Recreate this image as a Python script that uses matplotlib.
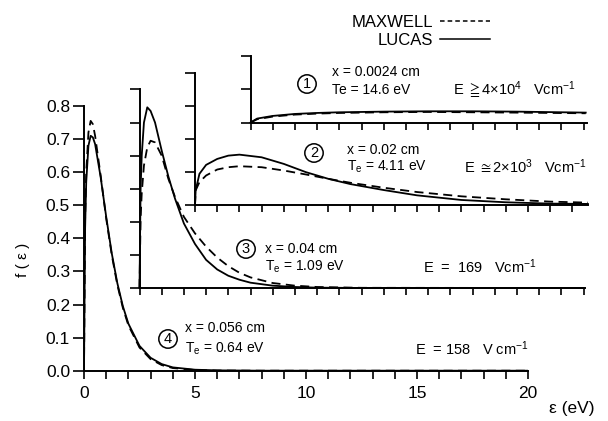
import matplotlib
matplotlib.use("Agg")
import matplotlib.pyplot as plt
from matplotlib.lines import Line2D

plt.rcParams['font.family'] = ['Liberation Sans', 'DejaVu Sans']
plt.rcParams['mathtext.fontset'] = 'custom'
plt.rcParams['mathtext.rm'] = 'Liberation Sans'
plt.rcParams['mathtext.it'] = 'Liberation Sans'
plt.rcParams['mathtext.fallback'] = 'stixsans'

# ---- electron energy distributions f(eps) at four positions ----
# case 4: x = 0.056 cm (main axes)
eps4 = [0, 0.05, 0.1, 0.2, 0.3, 0.4, 0.5, 0.75, 1.0, 1.25, 1.5, 1.75, 2.0, 2.5, 3.0, 3.5, 4.0, 5.0, 6.0, 8.0, 20.0]
maxwell4 = [0, 0.46, 0.60, 0.72, 0.755, 0.745, 0.71, 0.59, 0.46, 0.35, 0.26, 0.19, 0.137, 0.07, 0.035, 0.017, 0.008, 0.002, 0.0005, 0, 0]
lucas4 = [0, 0.43, 0.57, 0.68, 0.71, 0.705, 0.685, 0.585, 0.465, 0.355, 0.265, 0.195, 0.142, 0.075, 0.039, 0.02, 0.01, 0.003, 0.001, 0, 0]

# case 3: x = 0.04 cm
eps3 = [0, 0.05, 0.1, 0.2, 0.35, 0.5, 0.7, 1.0, 1.3, 1.6, 2.0, 2.5, 3.0, 3.5, 4.0, 4.5, 5.0, 6.0, 7.0, 8.0, 10.0, 20.0]
maxwell3 = [0, 0.21, 0.285, 0.37, 0.425, 0.445, 0.44, 0.40, 0.33, 0.275, 0.215, 0.165, 0.125, 0.092, 0.066, 0.046, 0.032, 0.015, 0.007, 0.003, 0.0005, 0]
lucas3 = [0, 0.30, 0.40, 0.50, 0.546, 0.535, 0.50, 0.415, 0.337, 0.27, 0.195, 0.133, 0.085, 0.056, 0.037, 0.025, 0.016, 0.007, 0.003, 0.001, 0, 0]

# case 2: x = 0.02 cm
eps2 = [0, 0.03, 0.2, 0.5, 1.0, 1.5, 2.0, 3.0, 4.0, 5.0, 6.0, 7.0, 8.5, 10.0, 12.0, 14.0, 16.0, 17.7]
maxwell2 = [0, 0.045, 0.07, 0.09, 0.108, 0.115, 0.118, 0.115, 0.105, 0.093, 0.08, 0.068, 0.053, 0.040, 0.027, 0.018, 0.011, 0.008]
lucas2 = [0, 0.045, 0.095, 0.122, 0.140, 0.150, 0.153, 0.145, 0.125, 0.100, 0.08, 0.064, 0.046, 0.030, 0.016, 0.009, 0.005, 0.004]

# case 1: x = 0.0024 cm
eps1 = [0, 0.3, 1, 2, 3, 4, 6, 8, 10, 12, 15.1]
maxwell1 = [0, 0.010, 0.018, 0.024, 0.027, 0.029, 0.031, 0.032, 0.031, 0.030, 0.028]
lucas1 = [0, 0.012, 0.020, 0.026, 0.029, 0.031, 0.033, 0.034, 0.034, 0.033, 0.030]

# axis ticks
main_yticks = [0.0, 0.1, 0.2, 0.3, 0.4, 0.5, 0.6, 0.7, 0.8]
main_ytick_labels = ["0.0", "0.1", "0.2", "0.3", "0.4", "0.5", "0.6", "0.7", "0.8"]
main_xtick_labels = ["0", "5", "10", "15", "20"]

# case labels
case_num = ["1", "2", "3", "4"]
case_x = ["x = 0.0024 cm", "x = 0.02 cm", "x = 0.04 cm", "x = 0.056 cm"]
case_te = ["Te = 14.6 eV", "T$_\\mathrm{e}$ = 4.11 eV", "T$_\\mathrm{e}$ = 1.09 eV", "T$_\\mathrm{e}$ = 0.64 eV"]
case_e = ["E $\\geqq$4\u00d710$^\\mathrm{4}$   Vcm$^\\mathrm{-1}$",
          "E $\\cong$2\u00d710$^\\mathrm{3}$   Vcm$^\\mathrm{-1}$",
          "E  =  169   Vcm$^\\mathrm{-1}$",
          "E  = 158   V cm$^\\mathrm{-1}$"]

W, H = 608, 421
fig = plt.figure(figsize=(W / 100, H / 100), dpi=100)

SPINE_W = 1.4
CURVE_W = 1.3
DASH = (0, (5, 3))
TXT = 10


def style_axes(ax):
    ax.set_facecolor("none")
    for s in ("top", "right"):
        ax.spines[s].set_visible(False)
    for s in ("left", "bottom"):
        ax.spines[s].set_linewidth(SPINE_W)
    ax.tick_params(axis="both", direction="out", width=1.2, colors="black")


# main axes (case 4)
ax = fig.add_axes([84 / W, 1 - 370.7 / H, 444 / W, 264.7 / H])
style_axes(ax)
ax.set_xlim(0, 20)
ax.set_ylim(0, 0.8)
ax.set_xticks(range(0, 21))
ax.set_xticklabels([main_xtick_labels[i // 5] if i % 5 == 0 else "" for i in range(21)], fontsize=12.5)
ax.set_yticks(main_yticks)
ax.set_yticklabels(main_ytick_labels, fontsize=12.5)
ax.tick_params(axis="x", length=6, pad=5)
ax.tick_params(axis="y", length=8, pad=2)
ax.plot(eps4, maxwell4, color="black", lw=CURVE_W, ls=DASH)
ax.plot(eps4, lucas4, color="black", lw=CURVE_W)

fig.text(23 / W, 1 - 260 / H, "f ( \u03b5 )", rotation=90, ha="center", va="center", fontsize=11)
fig.text(572 / W, 1 - 408 / H, "\u03b5 (eV)", ha="center", va="center", fontsize=12.5)

# stacked insets: each shifted by 2.5 eV and 0.25 along the main axes
insets = [
    (7.5, 0.75, 15.15, 0.2, 15, eps1, maxwell1, lucas1),
    (5.0, 0.50, 17.7, 0.4, 17, eps2, maxwell2, lucas2),
    (2.5, 0.25, 20.05, 0.6, 20, eps3, maxwell3, lucas3),
]
to_fig = fig.transFigure.inverted()
for ox, oy, xmax, ymax, nt, ex, fm, fl in insets:
    x0, y0 = to_fig.transform(ax.transData.transform((ox, oy)))
    x1, y1 = to_fig.transform(ax.transData.transform((ox + xmax, oy + ymax)))
    ia = fig.add_axes([x0, y0, x1 - x0, y1 - y0])
    style_axes(ia)
    ia.set_xlim(0, xmax)
    ia.set_ylim(0, ymax)
    ia.set_xticks(range(0, nt + 1))
    ia.set_yticks([k / 10 for k in range(int(round(ymax * 10)) + 1)])
    ia.set_xticklabels([])
    ia.set_yticklabels([])
    ia.tick_params(axis="x", length=5)
    ia.tick_params(axis="y", length=7)
    ia.plot(ex, fm, color="black", lw=CURVE_W, ls=DASH, clip_on=False)
    ia.plot(ex, fl, color="black", lw=CURVE_W, clip_on=False)

# case annotations (pixel anchors)
num_pos = [(307, 84), (314, 153), (246, 249), (168, 339)]
xlab_pos = [(332, 72), (347, 150), (265, 249), (185, 328)]
telab_pos = [(332, 90), (347, 167), (265, 267), (185, 349)]
elab_pos = [(453, 90), (464, 167), (423, 267), (415, 349)]
for i in range(4):
    fig.text(num_pos[i][0] / W, 1 - num_pos[i][1] / H, case_num[i], ha="center", va="center",
             fontsize=10.5, bbox=dict(boxstyle="circle,pad=0.15", fc="none", ec="black", lw=1.1))
    fig.text(xlab_pos[i][0] / W, 1 - xlab_pos[i][1] / H, case_x[i], ha="left", va="center", fontsize=TXT)
    fig.text(telab_pos[i][0] / W, 1 - telab_pos[i][1] / H, case_te[i], ha="left", va="center", fontsize=TXT)
    fig.text(elab_pos[i][0] / W, 1 - elab_pos[i][1] / H, case_e[i], ha="left", va="center", fontsize=TXT + 0.5)

# legend: label first, line sample after
handles = [Line2D([], [], color="black", lw=1.1, ls=(0, (3, 2))),
           Line2D([], [], color="black", lw=1.1)]
fig.legend(handles, ["MAXWELL", "LUCAS"], markerfirst=False, frameon=False,
           loc="upper left", bbox_to_anchor=(340 / W, 1 - 3 / H), fontsize=12,
           handlelength=3.0, handletextpad=0.4, labelspacing=0.2, borderpad=0.2)

fig.savefig("out.png", dpi=100)
